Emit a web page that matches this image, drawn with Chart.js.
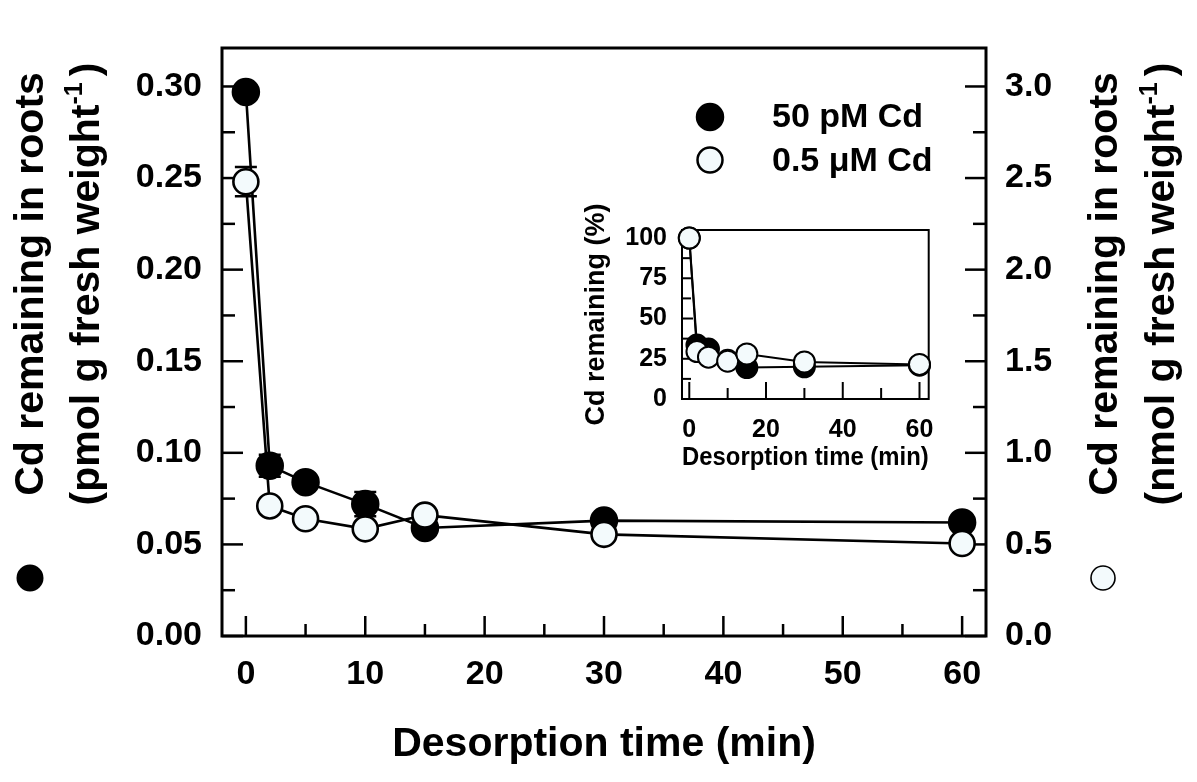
<!DOCTYPE html>
<html><head><meta charset="utf-8">
<script src="https://cdn.jsdelivr.net/npm/chart.js@4.4.0/dist/chart.umd.min.js"></script>
<style>
html,body{margin:0;padding:0;background:#fff;overflow:hidden}
#wrap{position:relative;width:1197px;height:782px}
#main{position:absolute;left:0;top:0}
#inset{position:absolute;left:570px;top:200px}
</style></head>
<body><div id="wrap"><canvas id="main" width="1197" height="782"></canvas><canvas id="inset" width="380" height="280"></canvas></div>
<script>
// ---- data ----
const desorptionTimes = [0, 2, 5, 10, 15, 30, 60];
const cd50pM = [0.297, 0.093, 0.084, 0.072, 0.059, 0.063, 0.062];      // pmol g-1 FW (left axis)
const cd50pMErr = [0, 0.006, 0, 0.0066, 0, 0, 0];
const cd05uM = [2.48, 0.71, 0.64, 0.585, 0.66, 0.555, 0.505];          // nmol g-1 FW (right axis)
const cd05uMErr = [0.08, 0, 0, 0, 0, 0, 0];
const inset50pM = [100, 33.5, 31, 24, 19.5, 20, 21];                   // % remaining
const inset05uM = [100, 29.5, 26, 23.5, 28, 23, 21.5];

const xTickLabels = [0, 10, 20, 30, 40, 50, 60];
const xMinorTicks = [5, 15, 25, 35, 45, 55];
const yLeftTickLabels = [0, 0.05, 0.10, 0.15, 0.20, 0.25, 0.30];
const yLeftMinorTicks = [0.025, 0.075, 0.125, 0.175, 0.225, 0.275];
const yRightTickLabels = [0, 0.5, 1.0, 1.5, 2.0, 2.5, 3.0];
const yRightMinorTicks = [0.25, 0.75, 1.25, 1.75, 2.25, 2.75];
const insetXTickLabels = [0, 20, 40, 60];
const insetXMinorTicks = [10, 30, 50];
const insetYTickLabels = [0, 25, 50, 75, 100];
const insetYMinorTicks = [12.5, 37.5, 62.5, 87.5];

const seriesNames = ['50 pM Cd', '0.5 \u03bcM Cd'];
const FONT = '"Liberation Sans", Arial, Helvetica, sans-serif';
const OPEN_FILL = '#f3fafc';

// ---- plugins ----
const frameTicks = {
  id: 'frameTicks',
  beforeDatasetsDraw(chart, args, o) {
    const ctx = chart.ctx, a = chart.chartArea;
    ctx.save();
    ctx.strokeStyle = '#000';
    ctx.lineWidth = o.tickWidth;
    o.specs.forEach(s => {
      const sc = chart.scales[s.id];
      const draw = (vals, len) => vals.forEach(v => {
        const p = sc.getPixelForValue(v);
        ctx.beginPath();
        if (s.side === 'bottom') { ctx.moveTo(p, a.bottom); ctx.lineTo(p, a.bottom - len); }
        else if (s.side === 'left') { ctx.moveTo(a.left, p); ctx.lineTo(a.left + len, p); }
        else { ctx.moveTo(a.right, p); ctx.lineTo(a.right - len, p); }
        ctx.stroke();
      });
      draw(s.major, s.majorLen);
      draw(s.minor, s.minorLen);
    });
    ctx.lineWidth = o.frameWidth;
    ctx.strokeRect(a.left, a.top, a.width, a.height);
    // error bars
    chart.data.datasets.forEach((ds) => {
      if (!ds.errors) return;
      const ys = chart.scales[ds.yAxisID], xs = chart.scales.x;
      ctx.lineWidth = 2.5;
      ds.data.forEach((pt, j) => {
        const e = ds.errors[j];
        if (!e) return;
        const x = xs.getPixelForValue(pt.x);
        const y1 = ys.getPixelForValue(pt.y + e), y2 = ys.getPixelForValue(pt.y - e);
        ctx.beginPath();
        ctx.moveTo(x, y1); ctx.lineTo(x, y2);
        ctx.moveTo(x - 11, y1); ctx.lineTo(x + 11, y1);
        ctx.moveTo(x - 11, y2); ctx.lineTo(x + 11, y2);
        ctx.stroke();
      });
    });
    ctx.restore();
  }
};

function rotatedTitle(ctx, bx, cy, main, sup, tail) {
  ctx.save();
  ctx.translate(bx, cy);
  ctx.rotate(-Math.PI / 2);
  ctx.textBaseline = 'alphabetic';
  ctx.textAlign = 'left';
  ctx.font = 'bold 41px ' + FONT;
  const w1 = ctx.measureText(main).width;
  const w3 = tail ? ctx.measureText(tail).width : 0;
  ctx.font = 'bold 25px ' + FONT;
  const w2 = sup ? ctx.measureText(sup).width : 0;
  const W = w1 + w2 + w3 + (tail ? 6 : 0);
  let u = -W / 2;
  ctx.font = 'bold 41px ' + FONT;
  ctx.fillText(main, u, 0);
  u += w1;
  if (sup) { ctx.font = 'bold 25px ' + FONT; ctx.fillText(sup, u, -17); u += w2 + 6; }
  if (tail) { ctx.font = 'bold 41px ' + FONT; ctx.fillText(tail, u, 0); }
  ctx.restore();
}

function circle(ctx, x, y, r, fill, lw) {
  ctx.beginPath();
  ctx.arc(x, y, r, 0, Math.PI * 2);
  ctx.fillStyle = fill; ctx.fill();
  ctx.lineWidth = lw; ctx.strokeStyle = '#000'; ctx.stroke();
}

const decorations = {
  id: 'decorations',
  afterDraw(chart) {
    const ctx = chart.ctx;
    ctx.save();
    ctx.fillStyle = '#000';
    rotatedTitle(ctx, 43, 284, 'Cd remaining in roots');
    rotatedTitle(ctx, 99, 284, '(pmol g fresh weight', '-1', ')');
    rotatedTitle(ctx, 1117, 284, 'Cd remaining in roots');
    rotatedTitle(ctx, 1174, 284, '(nmol g fresh weight', '-1', ')');
    circle(ctx, 30, 578, 12.5, '#000', 2);
    circle(ctx, 1103, 578, 12, OPEN_FILL, 1.6);
    // legend
    circle(ctx, 710, 117, 13, '#000', 2.5);
    circle(ctx, 710, 160, 12.5, OPEN_FILL, 2.5);
    ctx.fillStyle = '#000';
    ctx.font = 'bold 34px ' + FONT;
    ctx.textAlign = 'left';
    ctx.textBaseline = 'alphabetic';
    ctx.fillText(seriesNames[0], 772, 127);
    ctx.fillText(seriesNames[1], 772, 171);
    ctx.restore();
  }
};

const toPts = (xs, ys) => xs.map((x, i) => ({ x, y: ys[i] }));
const setTicks = vals => scale => { scale.ticks = vals.map(v => ({ value: v })); };

// ---- main chart ----
new Chart(document.getElementById('main'), {
  type: 'line',
  data: {
    datasets: [
      {
        label: seriesNames[1], data: toPts(desorptionTimes, cd05uM), errors: cd05uMErr,
        yAxisID: 'y2', order: 0,
        borderColor: '#000', borderWidth: 2.6, tension: 0,
        pointRadius: 12.5, pointBorderWidth: 2.6, pointBackgroundColor: OPEN_FILL, pointBorderColor: '#000',
        clip: false
      },
      {
        label: seriesNames[0], data: toPts(desorptionTimes, cd50pM), errors: cd50pMErr,
        yAxisID: 'y', order: 1,
        borderColor: '#000', borderWidth: 2.6, tension: 0,
        pointRadius: 13, pointBorderWidth: 2.5, pointBackgroundColor: '#000', pointBorderColor: '#000',
        clip: false
      }
    ]
  },
  options: {
    responsive: false, animation: false, events: [],
    layout: { padding: { top: 48, left: 0, right: 0, bottom: 0 } },
    plugins: {
      legend: { display: false }, tooltip: { enabled: false },
      frameTicks: {
        tickWidth: 2.5, frameWidth: 3,
        specs: [
          { id: 'x', side: 'bottom', major: xTickLabels, minor: xMinorTicks, majorLen: 20, minorLen: 12 },
          { id: 'y', side: 'left', major: yLeftTickLabels, minor: yLeftMinorTicks, majorLen: 21, minorLen: 13 },
          { id: 'y2', side: 'right', major: yRightTickLabels, minor: yRightMinorTicks, majorLen: 21, minorLen: 13 }
        ]
      }
    },
    scales: {
      x: {
        type: 'linear', position: 'bottom', min: -2, max: 62,
        afterBuildTicks: setTicks(xTickLabels),
        afterFit: s => { s.height = 146; },
        grid: { display: false, drawTicks: false }, border: { display: false },
        ticks: { autoSkip: false, maxRotation: 0, padding: 18, color: '#000',
          font: { family: FONT, size: 34, weight: 'bold' }, callback: v => String(v) },
        title: { display: true, text: 'Desorption time (min)', color: '#000',
          font: { family: FONT, size: 41, weight: 'bold' }, padding: { top: 0, bottom: 13 } }
      },
      y: {
        type: 'linear', position: 'left', min: 0, max: 0.321,
        afterBuildTicks: setTicks(yLeftTickLabels),
        afterFit: s => { s.width = 222; },
        grid: { display: false, drawTicks: false }, border: { display: false },
        ticks: { autoSkip: false, padding: 20, color: '#000',
          font: { family: FONT, size: 34, weight: 'bold' }, callback: v => Number(v).toFixed(2) }
      },
      y2: {
        type: 'linear', position: 'right', min: 0, max: 3.21,
        afterBuildTicks: setTicks(yRightTickLabels),
        afterFit: s => { s.width = 211; },
        grid: { display: false, drawTicks: false }, border: { display: false },
        ticks: { autoSkip: false, padding: 19, color: '#000',
          font: { family: FONT, size: 34, weight: 'bold' }, callback: v => Number(v).toFixed(1) }
      }
    }
  },
  plugins: [frameTicks, decorations]
});

// ---- inset chart ----
new Chart(document.getElementById('inset'), {
  type: 'line',
  data: {
    datasets: [
      {
        label: seriesNames[1], data: toPts(desorptionTimes, inset05uM), yAxisID: 'y', order: 0,
        borderColor: '#000', borderWidth: 2, tension: 0,
        pointRadius: 10.5, pointBorderWidth: 2, pointBackgroundColor: OPEN_FILL, pointBorderColor: '#000',
        clip: false
      },
      {
        label: seriesNames[0], data: toPts(desorptionTimes, inset50pM), yAxisID: 'y', order: 1,
        borderColor: '#000', borderWidth: 2, tension: 0,
        pointRadius: 10.5, pointBorderWidth: 2, pointBackgroundColor: '#000', pointBorderColor: '#000',
        clip: false
      }
    ]
  },
  options: {
    responsive: false, animation: false, events: [],
    layout: { padding: { top: 25, right: 16, left: 0, bottom: 0 } },
    plugins: {
      legend: { display: false }, tooltip: { enabled: false },
      frameTicks: {
        tickWidth: 2, frameWidth: 2,
        specs: [
          { id: 'x', side: 'bottom', major: insetXTickLabels, minor: insetXMinorTicks, majorLen: 17, minorLen: 11 },
          { id: 'y', side: 'left', major: insetYTickLabels, minor: insetYMinorTicks, majorLen: 11, minorLen: 9 }
        ]
      }
    },
    scales: {
      x: {
        type: 'linear', min: -1.9, max: 62.4,
        afterBuildTicks: setTicks(insetXTickLabels),
        afterFit: s => { s.height = 81; },
        grid: { display: false, drawTicks: false }, border: { display: false },
        ticks: { autoSkip: false, maxRotation: 0, padding: 16, color: '#000',
          font: { family: FONT, size: 25, weight: 'bold' }, callback: v => String(v) },
        title: { display: true, text: 'Desorption time (min)', color: '#000',
          font: { family: FONT, size: 26, weight: 'bold' }, padding: { top: 0, bottom: 7 } }
      },
      y: {
        type: 'linear', min: 0, max: 105,
        afterBuildTicks: setTicks(insetYTickLabels),
        afterFit: s => { s.width = 112; },
        grid: { display: false, drawTicks: false }, border: { display: false },
        ticks: { autoSkip: false, padding: 15, color: '#000',
          font: { family: FONT, size: 25, weight: 'bold' }, callback: v => String(v) },
        title: { display: true, text: 'Cd remaining (%)', color: '#000',
          font: { family: FONT, size: 27, weight: 'bold' }, padding: { top: 10, bottom: 0 } }
      }
    }
  },
  plugins: [frameTicks]
});
</script>
</body></html>
